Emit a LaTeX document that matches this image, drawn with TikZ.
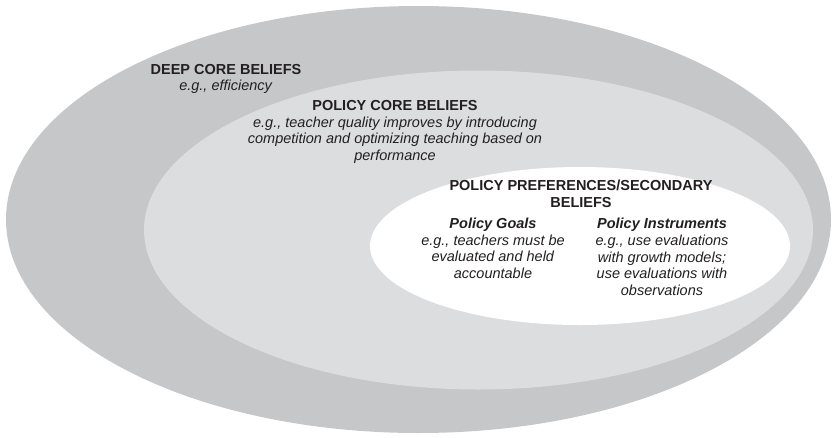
\documentclass[tikz,border=0pt]{standalone}
\usepackage{fontspec}
\setmainfont{Liberation Sans}
\definecolor{deepgray}{RGB}{198,199,201}
\definecolor{coregray}{RGB}{220,221,223}
\definecolor{txt}{RGB}{35,31,32}
\begin{document}
\begin{tikzpicture}[x=1pt,y=-1pt]
  \useasboundingbox (0,0) rectangle (832,437);

  \fill[deepgray] (418.5,219.5) ellipse [x radius=412.5pt, y radius=213.5pt];
  \fill[coregray] (478.5,230) ellipse [x radius=334.5pt, y radius=159.5pt];
  \fill[white]    (580,246) ellipse [x radius=210pt, y radius=79pt];

  \begin{scope}[every node/.style={align=center,text=txt,inner sep=0pt,
      font=\fontsize{14.5}{16.6}\selectfont}]
    \node (deep) at (226,79) {\textbf{DEEP CORE BELIEFS}\\ \textit{e.g., efficiency}};
    \node (core) at (395,132) {\textbf{POLICY CORE BELIEFS}\\
      \textit{e.g., teacher quality improves by introducing}\\
      \textit{competition and optimizing teaching based on}\\
      \textit{performance}};
    \node (pref) at (581,194) {\textbf{POLICY PREFERENCES/SECONDARY}\\ \textbf{BELIEFS}};
    \node (goals) at (493,248.5) {\textbf{\textit{Policy Goals}}\\
      \textit{e.g., teachers must be}\\ \textit{evaluated and held}\\ \textit{accountable}};
    \node (instr) at (662,257) {\textbf{\textit{Policy Instruments}}\\
      \textit{e.g., use evaluations}\\ \textit{with growth models;}\\
      \textit{use evaluations with}\\ \textit{observations}};
  \end{scope}

\end{tikzpicture}
\end{document}
